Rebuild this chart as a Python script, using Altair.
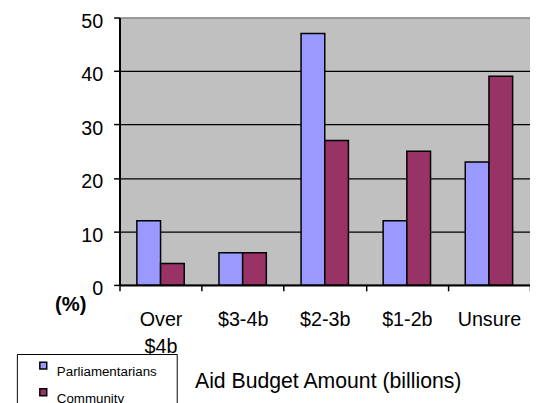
import altair as alt
import pandas as pd

categories = ["Over $4b", "$3-4b", "$2-3b", "$1-2b", "Unsure"]
series = ["Parliamentarians", "Community"]
parliamentarians = [12, 6, 47, 12, 23]
community = [4, 6, 27, 25, 39]
colors = ["#9999FF", "#993366"]
y_ticks = [0, 10, 20, 30, 40, 50]

rows = []
for c, p, m in zip(categories, parliamentarians, community):
    rows.append({"budget": c, "group": series[0], "pct": p})
    rows.append({"budget": c, "group": series[1], "pct": m})
df = pd.DataFrame(rows)

FONT = "Liberation Sans, Arial, Helvetica, sans-serif"
PAD = "\u00a0" * 4 + "\u200b"

chart = alt.Chart(df).mark_bar(stroke="black", strokeWidth=1.5).encode(
    x=alt.X(
        "budget:N",
        sort=categories,
        scale=alt.Scale(paddingInner=0, paddingOuter=0),
        axis=alt.Axis(
            title="Aid Budget Amount (billions)",
            labelAngle=0,
            labelExpr="split(datum.label, ' ')",
            labelFont=FONT,
            labelFontSize=20,
            labelColor="black",
            labelBaseline="top",
            labelLineHeight=27,
            labelPadding=19,
            tickBand="extent",
            tickSize=6,
            tickColor="black",
            tickWidth=1.5,
            domainColor="black",
            domainWidth=2,
            grid=False,
            titleFont=FONT,
            titleFontSize=21.5,
            titleFontWeight="normal",
            titleColor="black",
            titleX=211,
            titleY=104,
            titleAlign="center",
            titleBaseline="alphabetic",
        ),
    ),
    xOffset=alt.XOffset(
        "group:N", sort=series, scale=alt.Scale(paddingInner=0, paddingOuter=0.733)
    ),
    y=alt.Y(
        "pct:Q",
        scale=alt.Scale(domain=[0, 50], nice=False),
        axis=alt.Axis(
            values=y_ticks,
            title="(%)",
            titleAngle=0,
            titleX=-50,
            titleY=297,
            titleAlign="center",
            titleBaseline="alphabetic",
            titleFont=FONT,
            titleFontSize=20.5,
            titleFontWeight="bold",
            titleColor="black",
            labelFont=FONT,
            labelFontSize=20,
            labelColor="black",
            labelPadding=11,
            labelOffset=4,
            tickSize=6,
            tickColor="black",
            tickWidth=1.5,
            domainColor="black",
            domainWidth=2,
            grid=True,
            gridColor={"condition": {"test": "datum.value === 50", "value": "#909090"}, "value": "black"},
            gridWidth=1.3,
        ),
    ),
    color=alt.Color(
        "group:N",
        sort=series,
        scale=alt.Scale(domain=series, range=colors),
        legend=alt.Legend(
            title=None,
            orient="none",
            legendX=-104,
            legendY=341,
            padding=5,
            strokeColor="black",
            fillColor="white",
            symbolType="square",
            symbolSize=49,
            symbolStrokeColor="black",
            symbolStrokeWidth=1.5,
            symbolOffset=15,
            labelOffset=7,
            labelFont=FONT,
            labelFontSize=13.5,
            labelColor="black",
            labelBaseline="top",
            labelExpr="datum.label + '" + PAD + "'",
            rowPadding=6,
        ),
    ),
).properties(
    width=416,
    height=271,
    autosize=alt.AutoSizeParams(type="none"),
    padding={"left": 113, "top": 7, "right": 0, "bottom": 117},
).configure_view(fill="#C0C0C0", stroke="#808080", strokeWidth=1)

chart.save("out.html", embed_options={"renderer": "svg", "actions": False})
